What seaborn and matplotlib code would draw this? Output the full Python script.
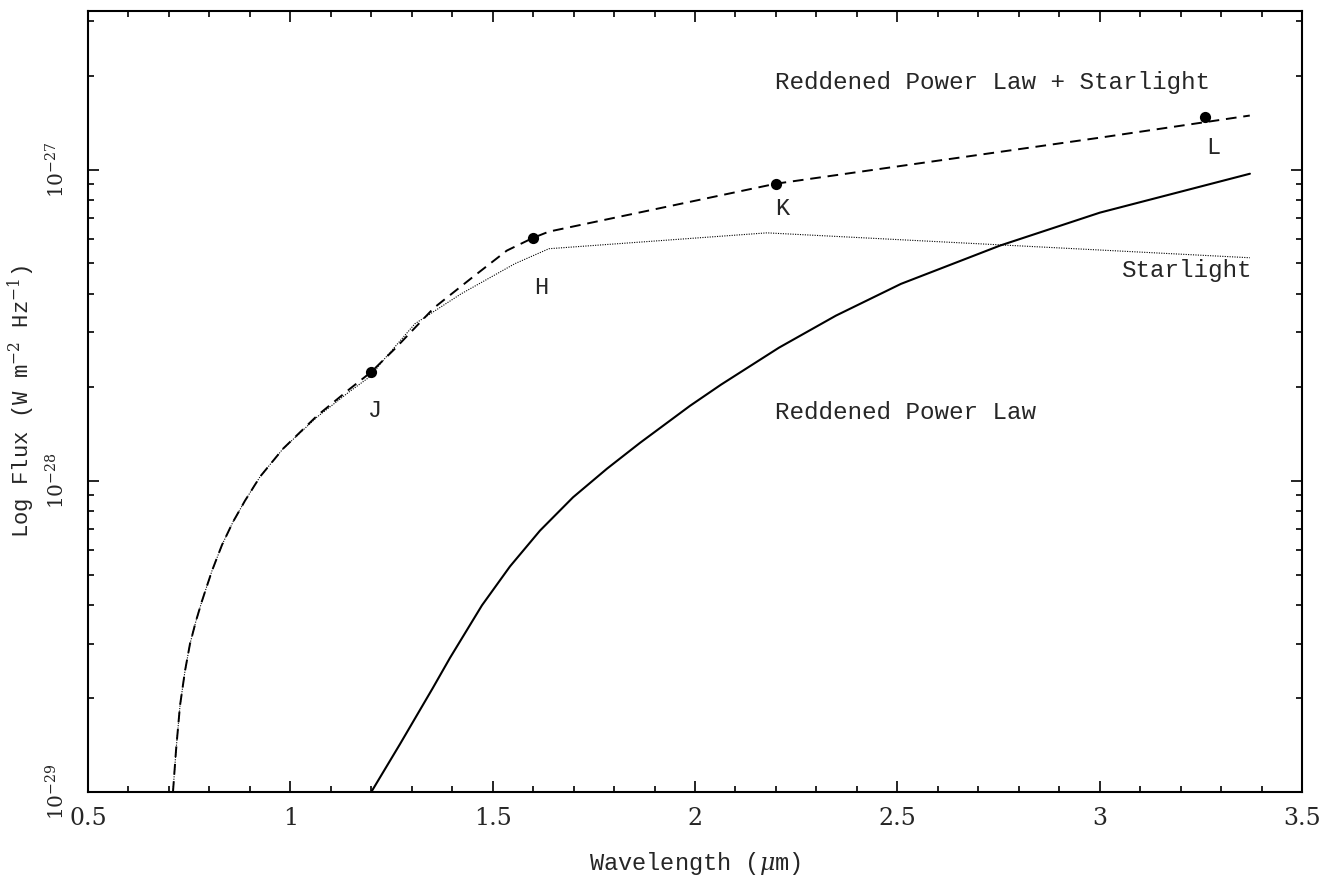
import numpy as np
import pandas as pd
import matplotlib
matplotlib.use("Agg")
import matplotlib.pyplot as plt
import seaborn as sns
from matplotlib.ticker import FixedLocator, NullFormatter, MultipleLocator

# ---------------- data ----------------
# Reddened power law (solid)
pl_wave = [1.20, 1.271, 1.352, 1.3945, 1.4736, 1.5428, 1.6169, 1.6985, 1.7824,
           1.864, 1.9875, 2.0641, 2.2075, 2.3483, 2.5089, 2.7535, 3.0006, 3.3713]
pl_logf = [-29.0, -28.846, -28.666, -28.569, -28.400, -28.275, -28.160, -28.053,
           -27.961, -27.878, -27.759, -27.691, -27.572, -27.469, -27.367, -27.244,
           -27.138, -27.013]

# Starlight (dotted)
st_wave = [0.710, 0.7174, 0.7273, 0.7397, 0.752, 0.7669, 0.7817, 0.8064, 0.8311,
           0.8583, 0.8879, 0.925, 0.9818, 1.0659, 1.1474, 1.20,
           1.222, 1.308, 1.422, 1.555, 1.639, 2.178, 3.371]
st_logf = [-29.0, -28.868, -28.723, -28.611, -28.524, -28.450, -28.386, -28.289,
           -28.206, -28.132, -28.064, -27.987, -27.897, -27.795, -27.712, -27.662,
           -27.624, -27.495, -27.399, -27.302, -27.254, -27.203, -27.283]

# Reddened power law + starlight (dashed)
tot_wave = [0.710, 0.7174, 0.7273, 0.7397, 0.752, 0.7669, 0.7817, 0.8064, 0.8311,
            0.8583, 0.8879, 0.925, 0.9818, 1.0659, 1.1474, 1.20,
            1.261, 1.355, 1.449, 1.535, 1.60, 1.639, 2.20, 3.001, 3.371]
tot_logf = [-29.0, -28.868, -28.723, -28.611, -28.524, -28.450, -28.386, -28.289,
            -28.206, -28.132, -28.064, -27.987, -27.897, -27.791, -27.704, -27.650,
            -27.572, -27.444, -27.347, -27.260, -27.219, -27.199, -27.045, -26.897,
            -26.826]

# Photometric points
band_names = ["J", "H", "K", "L"]
band_wave = [1.20, 1.60, 2.20, 3.26]
band_flux = [2.24e-28, 6.04e-28, 9.0e-28, 1.48e-27]
band_label_logf = [-27.775, -27.379, -27.125, -26.93]
band_label_dx = [0.01, 0.02, 0.015, 0.02]

# Axis settings
x_limits = [0.5, 3.5]
y_limits = [1e-29, 10 ** -26.49]
y_major = [1e-29, 1e-28, 1e-27]
y_major_labels = [r"$10^{-29}$", r"$10^{-28}$", r"$10^{-27}$"]

# Annotations
annotations = [
    ("Reddened Power Law + Starlight", 2.198, -26.72, "left"),
    ("Starlight", 3.376, -27.325, "right"),
    ("Reddened Power Law", 2.198, -27.781, "left"),
]

# ---------------- plotting ----------------
sns.set_style("ticks")
plt.rcParams["mathtext.fontset"] = "dejavuserif"
plt.rcParams["font.family"] = ["DejaVu Serif"]

fig = plt.figure(figsize=(13.34, 8.76), dpi=100)
ax = fig.add_axes([88 / 1334, 1 - 792 / 876, (1302 - 88) / 1334, (792 - 11) / 876])

df_pl = pd.DataFrame({"w": pl_wave, "f": 10.0 ** np.array(pl_logf)})
df_st = pd.DataFrame({"w": st_wave, "f": 10.0 ** np.array(st_logf)})
df_tot = pd.DataFrame({"w": tot_wave, "f": 10.0 ** np.array(tot_logf)})
df_pts = pd.DataFrame({"w": band_wave, "f": band_flux})

sns.lineplot(data=df_pl, x="w", y="f", ax=ax, color="black", lw=1.5,
             sort=False, estimator=None)
sns.lineplot(data=df_st, x="w", y="f", ax=ax, color="black", lw=0.8,
             sort=False, estimator=None, linestyle=(0, (1, 1.2)))
sns.lineplot(data=df_tot, x="w", y="f", ax=ax, color="black", lw=1.4,
             sort=False, estimator=None, linestyle=(0, (5.5, 3.5)))
sns.scatterplot(data=df_pts, x="w", y="f", ax=ax, color="black", s=65,
                edgecolor="black", linewidth=0, zorder=5)

ax.set_yscale("log")
ax.set_xlim(*x_limits)
ax.set_ylim(*y_limits)

mono = "Liberation Mono"
for name, xw, lf, dx in zip(band_names, band_wave, band_label_logf, band_label_dx):
    ax.text(xw + dx, 10 ** lf, name, family=mono, fontsize=17,
            ha="center", va="center")
for txt, xw, lf, ha in annotations:
    ax.text(xw, 10 ** lf, txt, family=mono, fontsize=17.5, ha=ha, va="center")

# ticks
ax.set_xticks([0.5, 1, 1.5, 2, 2.5, 3, 3.5])
ax.set_xticklabels(["0.5", "1", "1.5", "2", "2.5", "3", "3.5"])
ax.xaxis.set_minor_locator(MultipleLocator(0.1))
ax.yaxis.set_major_locator(FixedLocator(y_major))
ax.set_yticklabels(y_major_labels, rotation=90, va="center")
minor = [m * 10.0 ** e for e in (-29, -28, -27) for m in range(2, 10)]
ax.yaxis.set_minor_locator(FixedLocator(minor))
ax.yaxis.set_minor_formatter(NullFormatter())

ax.tick_params(which="both", direction="in", top=True, right=True,
               color="black", width=1.2)
ax.tick_params(which="major", length=8)
ax.tick_params(which="minor", length=4.5)
ax.tick_params(axis="x", which="major", labelsize=17, pad=11)
ax.tick_params(axis="y", which="major", labelsize=14.5, pad=14)

for sp in ax.spines.values():
    sp.set_linewidth(1.5)
    sp.set_color("black")

ax.set_xlabel(r"Wavelength ($\mu$m)", family=mono, fontsize=17)
ax.set_ylabel(r"Log Flux (W m$^{-2}$ Hz$^{-1}$)", family=mono, fontsize=16)
ax.xaxis.set_label_coords(0.5, -0.074)
ax.yaxis.set_label_coords(-0.042, 0.5)

fig.savefig("out.png", dpi=100)
